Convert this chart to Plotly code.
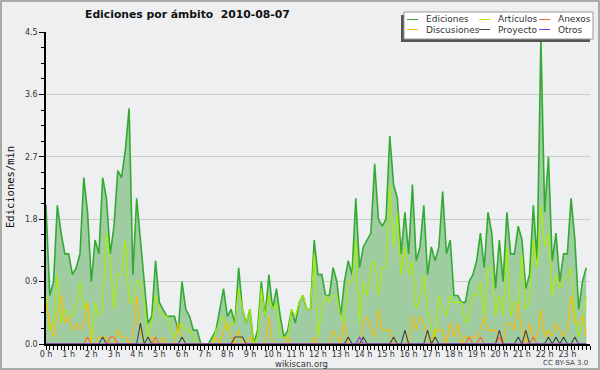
import plotly.graph_objects as go

# ---------------- data (10-minute slots, edits/min) ----------------
hours = list(range(24))
hour_labels = [f"{h} h" for h in hours]
slot_hours = [i / 6 for i in range(144)]

ediciones = [
    2.0, 0.7, 0.9, 2.0, 1.6, 1.3, 1.3, 1.0, 1.1, 1.3, 2.4, 1.9,
    0.9, 1.5, 1.3, 2.4, 2.1, 1.3, 1.7, 2.5, 2.4, 2.8, 3.4, 1.0,
    2.1, 1.5, 0.8, 0.3, 0.4, 1.2, 0.6, 0.5, 0.4, 0.4, 0.4, 0.2,
    0.9, 0.5, 0.4, 0.2, 0.2, 0.0, 0.0, 0.0, 0.1, 0.2, 0.5, 0.8,
    0.4, 0.5, 0.3, 1.1, 0.5, 0.3, 0.5, 0.0, 0.2, 0.9, 0.4, 1.0,
    0.5, 0.8, 0.4, 0.1, 0.2, 0.5, 0.3, 0.6, 0.7, 0.5, 0.5, 1.5,
    1.0, 1.0, 0.7, 0.7, 1.1, 0.9, 0.4, 0.9, 1.2, 1.0, 2.1, 1.1,
    1.4, 1.5, 1.6, 2.6, 1.8, 1.7, 1.8, 3.0, 2.3, 2.1, 1.3, 1.9,
    1.3, 2.3, 1.2, 1.4, 2.0, 1.0, 1.4, 1.2, 1.4, 2.2, 1.3, 1.5,
    0.7, 0.7, 0.6, 0.6, 0.9, 1.0, 1.2, 1.6, 1.1, 1.9, 1.6, 0.8,
    1.5, 0.9, 1.9, 1.3, 1.3, 1.7, 1.5, 0.8, 1.0, 2.0, 1.2, 4.4,
    1.9, 2.7, 1.2, 1.6, 0.9, 1.3, 1.3, 2.1, 1.5, 0.5, 0.9, 1.1,
]
articulos = [
    0.7, 0.2, 0.3, 1.0, 0.3, 0.5, 0.4, 0.4, 0.6, 0.9, 0.5, 0.6,
    0.0, 0.6, 0.4, 0.5, 1.6, 1.2, 0.5, 1.0, 1.0, 1.5, 0.6, 0.6,
    0.9, 0.9, 0.6, 0.1, 0.3, 0.7, 0.5, 0.4, 0.4, 0.2, 0.1, 0.2,
    0.3, 0.2, 0.2, 0.1, 0.0, 0.0, 0.0, 0.0, 0.0, 0.2, 0.3, 0.4,
    0.2, 0.3, 0.3, 0.8, 0.5, 0.3, 0.5, 0.0, 0.1, 0.8, 0.4, 0.7,
    0.5, 0.6, 0.1, 0.1, 0.1, 0.5, 0.4, 0.6, 0.7, 0.5, 0.5, 1.3,
    0.1, 0.5, 0.7, 0.6, 0.7, 0.7, 0.4, 0.3, 0.9, 0.9, 1.5, 0.3,
    0.9, 0.7, 1.1, 1.2, 0.7, 1.1, 1.1, 2.3, 1.4, 1.9, 1.0, 1.4,
    1.0, 1.2, 0.5, 0.7, 1.0, 0.5, 0.2, 0.1, 0.7, 0.5, 0.4, 0.7,
    0.6, 0.6, 0.6, 0.3, 0.4, 0.7, 0.7, 0.9, 0.4, 1.1, 1.1, 0.4,
    0.7, 0.4, 1.4, 0.4, 0.6, 0.6, 1.3, 0.5, 0.6, 1.5, 1.1, 2.0,
    1.4, 1.6, 0.7, 1.0, 0.8, 0.9, 1.0, 1.1, 0.4, 0.1, 0.3, 0.7,
]
discusiones = [
    0.6, 0.3, 0.1, 0.4, 0.7, 0.3, 0.4, 0.2, 0.3, 0.2, 0.3, 0.6,
    0.0, 0.0, 0.1, 0.1, 0.1, 0.0, 0.0, 0.2, 0.1, 0.1, 0.0, 0.1,
    0.7, 0.2, 0.0, 0.1, 0.1, 0.0, 0.0, 0.1, 0.0, 0.0, 0.0, 0.3,
    0.1, 0.0, 0.0, 0.0, 0.0, 0.0, 0.0, 0.0, 0.0, 0.1, 0.0, 0.2,
    0.3, 0.1, 0.0, 0.2, 0.0, 0.0, 0.1, 0.0, 0.0, 0.0, 0.0, 0.4,
    0.0, 0.0, 0.0, 0.0, 0.1, 0.0, 0.0, 0.0, 0.0, 0.0, 0.0, 0.1,
    0.0, 0.0, 0.0, 0.0, 0.2, 0.1, 0.0, 0.3, 0.0, 0.0, 0.0, 0.0,
    0.3, 0.4, 0.2, 0.1, 0.5, 0.2, 0.2, 0.2, 0.0, 0.0, 0.0, 0.0,
    0.0, 0.4, 0.2, 0.4, 0.3, 0.1, 0.0, 0.2, 0.2, 0.2, 0.0, 0.3,
    0.1, 0.3, 0.0, 0.1, 0.1, 0.1, 0.1, 0.2, 0.4, 0.2, 0.2, 0.2,
    0.1, 0.0, 0.3, 0.3, 0.2, 0.6, 0.2, 0.0, 0.3, 0.1, 0.1, 0.5,
    0.1, 0.2, 0.1, 0.3, 0.2, 0.1, 0.2, 0.7, 0.3, 0.3, 0.4, 0.1,
]
anexos_slots = [11, 17, 18, 29, 112, 115, 120, 129]
anexos_vals = [0.1, 0.1, 0.1, 0.1, 0.1, 0.1, 0.1, 0.1]
proyecto_slots = [15, 25, 27, 36, 50, 51, 52, 80, 84, 92, 95, 101, 103, 120, 125, 127, 133, 135, 137, 140]
proyecto_vals = [0.1, 0.3, 0.1, 0.1, 0.1, 0.1, 0.1, 0.1, 0.1, 0.1, 0.2, 0.2, 0.1, 0.2, 0.1, 0.2, 0.1, 0.1, 0.1, 0.1]
otros_slots = [83]
otros_vals = [0.1]

y_ticks = [0.0, 0.9, 1.8, 2.7, 3.6, 4.5]
y_labels = ["0.0", "0.9", "1.8", "2.7", "3.6", "4.5"]

series_names = ["Ediciones", "Artículos", "Anexos", "Discusiones", "Proyecto", "Otros"]


def expand(slots, vals):
    out = [0.0] * 144
    for s, v in zip(slots, vals):
        out[s] = v
    return out


anexos = expand(anexos_slots, anexos_vals)
proyecto = expand(proyecto_slots, proyecto_vals)
otros = expand(otros_slots, otros_vals)

colors = {
    "Ediciones": "#33aa33",
    "Artículos": "#aaee00",
    "Anexos": "#ff6633",
    "Discusiones": "#ffbb00",
    "Proyecto": "#444444",
    "Otros": "#8833ff",
}

# ---------------- figure ----------------
W, H = 600, 370
L, R, T, B = 46, 10, 32, 26
PW, PH = W - L - R, H - T - B
BG = "#eeeff1"
FONT = "DejaVu Sans"


def px(x):
    return (x - L) / PW


def py(y):
    return (H - B - y) / PH


fig = go.Figure()
fig.add_trace(go.Scatter(x=slot_hours, y=ediciones, mode="lines", name="Ediciones",
                         line=dict(color=colors["Ediciones"], width=1.6),
                         fill="tozeroy", fillcolor="#a0cca2"))
fig.add_trace(go.Scatter(x=slot_hours, y=articulos, mode="lines", name="Artículos",
                         line=dict(color=colors["Artículos"], width=1.1)))
fig.add_trace(go.Scatter(x=slot_hours, y=discusiones, mode="lines", name="Discusiones",
                         line=dict(color=colors["Discusiones"], width=1.1)))
fig.add_trace(go.Scatter(x=slot_hours, y=anexos, mode="lines", name="Anexos",
                         line=dict(color=colors["Anexos"], width=1.1)))
fig.add_trace(go.Scatter(x=slot_hours, y=proyecto, mode="lines", name="Proyecto",
                         line=dict(color=colors["Proyecto"], width=1.1)))
fig.add_trace(go.Scatter(x=slot_hours, y=otros, mode="lines", name="Otros",
                         line=dict(color=colors["Otros"], width=1.1)))

shapes = []
annotations = []

# outer border
shapes.append(dict(type="rect", xref="paper", yref="paper",
                   x0=px(1), x1=px(W - 1), y0=py(H - 1), y1=py(1),
                   line=dict(color="#aaaaaa", width=2), fillcolor="rgba(0,0,0,0)", layer="above"))

# title
annotations.append(dict(text="<b>Ediciones por ámbito  2010-08-07</b>", xref="paper", yref="paper",
                        x=px(187), y=py(15), xanchor="center", yanchor="middle", showarrow=False,
                        font=dict(family=FONT, size=10.8, color="#111111")))
# y title
annotations.append(dict(text="Ediciones/min", xref="paper", yref="paper", textangle=-90,
                        x=px(10), y=py(187), xanchor="center", yanchor="middle", showarrow=False,
                        font=dict(family="DejaVu Sans Mono", size=10.5, color="#111111")))
# footer
annotations.append(dict(text="wikiscan.org", xref="paper", yref="paper",
                        x=px(301), y=py(363.5), xanchor="center", yanchor="middle", showarrow=False,
                        font=dict(family=FONT, size=8.5, color="#333333")))
annotations.append(dict(text="CC BY-SA 3.0", xref="paper", yref="paper",
                        x=px(590), y=py(362.5), xanchor="right", yanchor="middle", showarrow=False,
                        font=dict(family=FONT, size=7, color="#444444")))

# manual legend
bx0, bx1, by0, by1 = 404, 593, 12, 39
shapes.append(dict(type="rect", xref="paper", yref="paper",
                   x0=px(bx0 - 3), x1=px(bx1 - 3), y0=py(by1 + 3), y1=py(by0 + 3),
                   line=dict(width=0), fillcolor="#555555", layer="above"))
shapes.append(dict(type="rect", xref="paper", yref="paper",
                   x0=px(bx0), x1=px(bx1), y0=py(by1), y1=py(by0),
                   line=dict(color="#999999", width=1), fillcolor="#ffffff", layer="above"))
col_sw = [407, 479, 539]
col_tx = [424, 496, 556]
row_y = [19.5, 29.5]
for k, name in enumerate(series_names):
    r, c = divmod(k, 3)
    shapes.append(dict(type="line", xref="paper", yref="paper",
                       x0=px(col_sw[c]), x1=px(col_sw[c] + 11), y0=py(row_y[r]), y1=py(row_y[r]),
                       line=dict(color=colors[name], width=1), layer="above"))
    annotations.append(dict(text=name, xref="paper", yref="paper",
                            x=px(col_tx[c]), y=py(row_y[r]), xanchor="left", yanchor="middle",
                            showarrow=False, font=dict(family=FONT, size=9, color="#333333")))

fig.update_layout(
    width=W, height=H,
    margin=dict(l=L, r=R, t=T, b=B, pad=0),
    paper_bgcolor=BG, plot_bgcolor=BG,
    showlegend=False,
    shapes=shapes, annotations=annotations,
    font=dict(family=FONT, size=8, color="#333333"),
)
fig.update_xaxes(
    range=[0, 24], tickvals=hours, ticktext=hour_labels,
    showgrid=False, zeroline=False,
    showline=True, linecolor="#000000", linewidth=2,
    ticks="outside", ticklen=4, tickcolor="#000000", tickwidth=1,
    ticklabelstandoff=-3,
    minor=dict(dtick=1 / 6, tick0=0, ticks="outside", ticklen=4, tickcolor="#000000", tickwidth=1, showgrid=False),
    tickfont=dict(family=FONT, size=8, color="#333333"),
    fixedrange=True,
)
fig.update_yaxes(
    range=[0, 4.5], tickvals=y_ticks, ticktext=y_labels,
    showgrid=True, gridcolor="#cccccc", gridwidth=1, zeroline=False,
    showline=True, linecolor="#000000", linewidth=1.5,
    ticks="outside", ticklen=5, tickcolor="#000000", tickwidth=1,
    minor=dict(dtick=0.225, tick0=0, ticks="outside", ticklen=3, tickcolor="#000000", tickwidth=1, showgrid=False),
    tickfont=dict(family=FONT, size=8, color="#333333"),
    fixedrange=True,
)

fig.write_html("out.html", config={"displayModeBar": False},
               post_script="document.body.style.margin='0';document.body.style.overflow='hidden';")
